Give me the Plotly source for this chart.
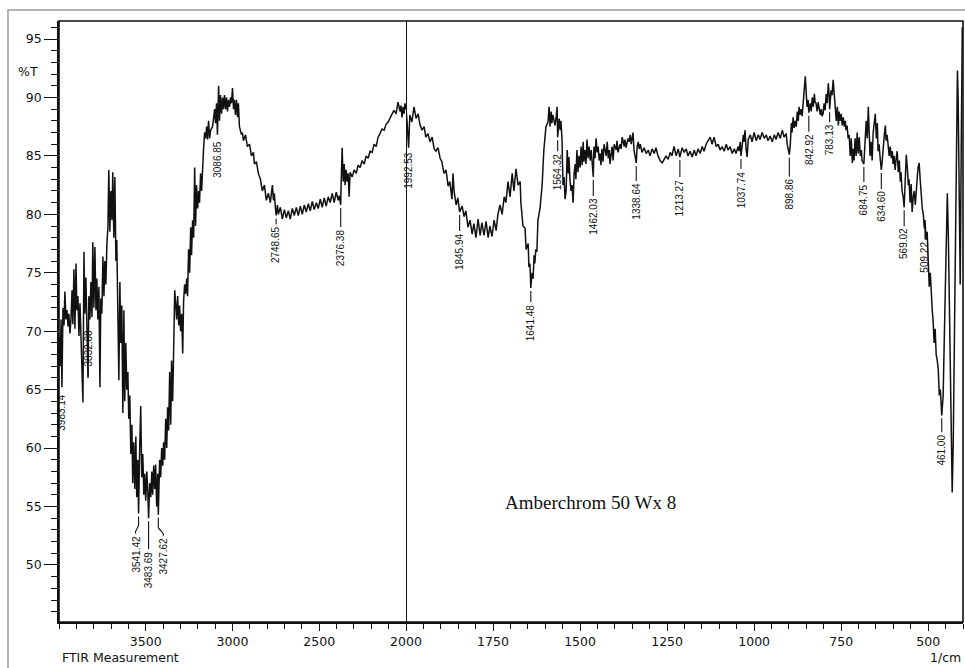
import plotly.graph_objects as go
import numpy as np

# ---- spectrum data: wavenumber (1/cm) and %T ----
# high-wavenumber section, 4000 -> 2000 (compressed scale)
wn_high = [
    4000, 3994, 3988, 3983.14, 3977, 3971, 3966, 3960, 3954, 3948,
    3943, 3937, 3931, 3925, 3920, 3914, 3908, 3902, 3897, 3891,
    3885, 3879, 3874, 3868, 3862, 3856, 3851, 3845, 3839, 3832.68,
    3828, 3822, 3816, 3810, 3805, 3799, 3793, 3787, 3782, 3776,
    3770, 3764, 3759, 3753, 3747, 3741, 3736, 3730, 3724, 3718,
    3713, 3707, 3701, 3695, 3690, 3684, 3678, 3672, 3667, 3661,
    3655, 3649, 3644, 3638, 3632, 3626, 3621, 3615, 3609, 3603,
    3598, 3592, 3586, 3580, 3575, 3569, 3563, 3557, 3552, 3546,
    3541.42, 3535, 3529, 3523, 3517, 3511, 3506, 3500, 3494, 3488,
    3483.69, 3477, 3471, 3465, 3460, 3454, 3448, 3443, 3437, 3431,
    3427.62, 3420, 3414, 3408, 3402, 3397, 3391, 3385, 3379, 3374,
    3368, 3362, 3356, 3351, 3345, 3339, 3333, 3328, 3322, 3316,
    3310, 3305, 3299, 3293, 3287, 3282, 3276, 3270, 3264, 3259,
    3253, 3247, 3241, 3236, 3230, 3224, 3218, 3213, 3207, 3201,
    3195, 3190, 3184, 3178, 3172, 3167, 3161, 3155, 3149, 3144,
    3138, 3132, 3126, 3115, 3103, 3098, 3092, 3086.85, 3080, 3075,
    3069, 3063, 3057, 3052, 3046, 3040, 3034, 3029, 3023, 3017,
    3011, 3006, 3000, 2994, 2989, 2983, 2977, 2971, 2966, 2960,
    2948, 2943, 2937, 2925, 2914, 2902, 2891, 2879, 2874, 2862,
    2851, 2839, 2828, 2816, 2805, 2793, 2782, 2770, 2764, 2759,
    2753, 2748.65, 2741, 2736, 2724, 2713, 2701, 2690, 2678, 2667,
    2655, 2644, 2632, 2621, 2609, 2598, 2586, 2575, 2563, 2552,
    2540, 2529, 2517, 2506, 2494, 2483, 2471, 2460, 2448, 2437,
    2425, 2414, 2402, 2391, 2385, 2376.38, 2374, 2368, 2362, 2356,
    2351, 2345, 2339, 2333, 2328, 2322, 2310, 2299, 2287, 2276,
    2264, 2253, 2241, 2230, 2218, 2207, 2195, 2184, 2172, 2161,
    2150, 2138, 2126, 2115, 2103, 2092, 2080, 2069, 2057, 2046,
    2034, 2029, 2023, 2017, 2011, 2006, 2000,
]
t_high = [
    69.5, 67.0, 71.0, 65.2, 72.0, 70.5, 73.4, 71.0, 71.8, 70.4,
    71.5, 69.8, 71.0, 73.5, 70.6, 75.3, 70.2, 75.8, 71.8, 73.0,
    69.6, 72.4, 69.9, 66.8, 63.9, 76.8, 71.5, 74.6, 70.2, 66.0,
    73.0, 71.0, 74.2, 71.2, 77.6, 72.0, 77.2, 71.8, 74.5, 71.0,
    73.8, 65.2, 72.8, 71.5, 76.4, 73.0, 76.0, 74.0, 77.4, 79.0,
    83.8, 78.5, 82.0, 79.5, 83.6, 78.0, 83.2, 76.0, 77.8, 72.6,
    65.8, 74.2, 69.0, 72.2, 63.0, 71.8, 64.0, 69.0, 65.0, 66.5,
    62.5, 64.5, 59.5, 62.0, 57.0, 60.5, 56.5, 61.0, 55.8, 59.0,
    54.4, 60.0, 63.6, 57.5, 59.5, 56.0, 57.8, 55.5, 58.0, 56.2,
    54.0, 57.0, 55.8, 58.0, 56.0, 58.5, 56.5, 58.6, 55.0, 57.8,
    54.3, 59.0, 57.5, 60.0, 58.5, 60.5, 59.0, 62.5, 60.0, 63.5,
    61.5, 66.5, 62.0, 67.5, 64.0, 68.5, 73.5, 72.5, 71.0, 73.0,
    70.5, 72.2, 70.0, 71.5, 68.1, 72.5, 74.0, 73.2, 74.5, 73.0,
    77.0, 75.0, 78.9, 76.5, 79.5, 78.0, 84.0, 79.0, 82.5, 80.5,
    82.0, 81.0, 83.5, 82.0, 84.6, 85.5, 87.0, 86.5, 87.5, 86.4,
    88.0, 86.5, 87.2, 87.5, 89.0, 87.8, 89.5, 86.8, 91.0, 88.0,
    90.2, 88.6, 90.0, 89.0, 90.2, 89.0, 90.0, 88.8, 89.8, 89.2,
    90.0, 89.5, 90.8, 89.0, 89.8, 88.5, 89.8, 88.3, 89.5, 87.5,
    86.8, 87.0, 86.3, 86.8, 85.8, 86.0, 85.0, 85.3, 84.3, 84.5,
    83.5, 83.0, 82.0, 82.5, 81.2, 81.8, 81.0, 82.5, 81.2, 81.8,
    80.6, 79.9, 80.8, 80.0, 80.6, 79.6, 80.4, 79.7, 80.3, 79.6,
    80.5, 79.9, 80.6, 79.9, 80.7, 80.0, 80.8, 80.2, 80.9, 80.3,
    81.1, 80.4, 81.0, 80.5, 81.3, 80.6, 81.4, 80.7, 81.5, 81.0,
    81.8, 81.0, 81.9, 81.2, 81.6, 80.8, 82.5, 85.7, 82.8, 84.3,
    82.5, 83.8, 82.8, 83.5, 81.5, 83.6, 83.2, 83.8, 83.5, 84.2,
    84.0, 84.6, 84.3, 85.0, 84.8, 85.4, 85.3, 86.0, 85.8, 86.6,
    86.9, 87.3, 87.2, 87.7, 87.9, 88.3, 88.6, 88.9, 88.6, 89.6,
    88.8, 89.3, 88.3, 89.2, 88.6, 89.5, 89.0,
]

# low-wavenumber section, 2000 -> 400 (expanded scale)
wn_low = [
    2000, 1997, 1992.53, 1991, 1989, 1983, 1977, 1971, 1965, 1960,
    1954, 1948, 1943, 1937, 1931, 1925, 1919, 1914, 1908, 1902,
    1897, 1891, 1885, 1879, 1874, 1868, 1865, 1862, 1856, 1851,
    1845.94, 1839, 1833, 1828, 1822, 1816, 1810, 1805, 1799, 1793,
    1787, 1782, 1776, 1770, 1764, 1759, 1753, 1747, 1741, 1736,
    1730, 1724, 1718, 1713, 1707, 1701, 1695, 1690, 1684, 1678,
    1672, 1670, 1664, 1658, 1655, 1649, 1647, 1644, 1641.48, 1638,
    1635, 1632, 1630, 1627, 1624, 1621, 1615, 1609, 1604, 1598,
    1592, 1589, 1586, 1583, 1581, 1578, 1572, 1569, 1566, 1564.32,
    1560, 1557, 1555, 1552, 1549, 1546, 1543, 1540, 1537, 1534,
    1532, 1529, 1526, 1523, 1520, 1517, 1514, 1512, 1509, 1506,
    1503, 1500, 1497, 1494, 1491, 1489, 1486, 1483, 1480, 1477,
    1474, 1471, 1468, 1462.03, 1460, 1457, 1454, 1451, 1448, 1445,
    1442, 1440, 1437, 1434, 1431, 1425, 1422, 1419, 1416, 1414,
    1408, 1405, 1402, 1396, 1394, 1391, 1385, 1382, 1379, 1373,
    1371, 1368, 1362, 1359, 1356, 1353, 1350, 1348, 1345, 1342,
    1338.64, 1336, 1333, 1330, 1327, 1322, 1316, 1310, 1304, 1299,
    1293, 1287, 1282, 1276, 1270, 1264, 1258, 1253, 1247, 1241,
    1236, 1230, 1224, 1218, 1213.27, 1207, 1201, 1195, 1190, 1184,
    1178, 1172, 1167, 1161, 1155, 1149, 1144, 1138, 1132, 1126,
    1121, 1115, 1109, 1103, 1098, 1092, 1086, 1080, 1075, 1069,
    1063, 1057, 1052, 1046, 1043, 1040, 1037.74, 1034, 1031, 1029,
    1026, 1023, 1020, 1017, 1011, 1006, 1000, 994, 988, 983,
    977, 971, 965, 960, 954, 948, 942, 937, 931, 925,
    919, 914, 908, 905, 902, 898.86, 896, 893, 891, 888,
    885, 882, 879, 876, 873, 871, 868, 865, 862, 859,
    856, 853, 850, 848, 845, 842.92, 839, 836, 833, 830,
    827, 825, 822, 819, 816, 813, 810, 807, 805, 802,
    799, 796, 793, 790, 787, 784, 783.13, 779, 776, 773,
    770, 767, 764, 761, 758, 756, 753, 750, 747, 744,
    741, 738, 736, 733, 730, 727, 724, 721, 718, 715,
    713, 710, 707, 704, 701, 698, 695, 692, 690, 684.75,
    683, 681, 678, 675, 672, 670, 667, 664, 661, 658,
    655, 652, 649, 646, 644, 641, 638, 634.60, 632, 629,
    626, 623, 621, 618, 615, 612, 609, 606, 603, 601,
    598, 595, 592, 589, 586, 583, 580, 578, 575, 572,
    569.02, 566, 563, 560, 557, 555, 552, 549, 546, 543,
    540, 537, 534, 531, 529, 526, 523, 520, 517, 514,
    511, 509.22, 506, 503, 500, 497, 494, 491, 488, 486,
    483, 480, 477, 474, 471, 468, 465, 461.00, 457, 454,
    451, 448, 445, 442, 439, 437, 434, 431, 428, 425,
    422, 419, 416, 414, 411, 408, 405, 402, 400,
]
t_low = [
    89.0, 88.0, 85.7, 87.8, 88.5, 87.9, 89.2, 88.2, 88.6, 87.7,
    87.2, 87.5, 86.6, 86.9, 86.2, 86.6, 85.6, 85.4, 85.7, 84.8,
    84.5, 83.5, 83.8, 82.4, 82.8, 81.3, 83.5, 82.0, 80.8, 81.4,
    80.2, 80.7, 79.8, 80.3, 78.9, 79.5, 78.3, 79.2, 78.0, 79.6,
    78.2, 79.3, 78.2, 79.4, 78.0, 79.0, 78.1, 79.5, 78.6, 80.0,
    80.8, 80.0, 81.5, 81.0, 82.8, 81.5, 83.5, 82.0, 83.9, 82.5,
    82.8, 81.0, 79.0, 78.8, 77.0, 77.5, 75.5, 75.8, 73.7, 75.0,
    74.5, 76.5, 75.8, 77.0, 76.8, 79.5, 80.5, 82.5, 85.5, 87.5,
    87.9, 89.2, 87.5, 88.8, 87.8, 88.5, 87.6, 88.2, 89.2, 86.6,
    88.2, 87.2, 88.0, 86.5, 82.5, 83.2, 81.3, 82.0, 85.5, 83.5,
    84.9, 83.0, 82.0, 82.5, 81.0, 83.5, 84.3, 83.0, 85.5, 83.6,
    85.0, 84.0, 85.8, 84.2, 86.2, 84.5, 85.5, 84.3, 86.4, 84.8,
    85.8, 84.6, 85.5, 83.2, 85.8, 84.8, 86.5, 85.3, 85.8, 84.6,
    85.2, 84.2, 85.6, 84.5, 86.0, 85.0, 86.2, 84.8, 85.5, 84.3,
    85.8, 84.6, 86.0, 85.5, 86.3, 85.3, 86.0, 85.6, 86.6, 85.8,
    86.4, 85.7, 86.5, 86.2, 86.8, 86.0, 86.7, 87.0, 85.5, 85.0,
    84.4, 85.8, 86.2, 85.6, 86.0, 85.3, 85.7, 85.2, 85.5, 85.0,
    85.6, 85.2, 85.7, 85.0, 84.6, 84.4, 84.8, 85.0, 84.7, 85.3,
    85.0, 85.8, 85.0, 85.6, 84.9, 85.7, 85.3, 85.6, 85.0, 85.4,
    84.9, 85.5, 85.0, 85.6, 85.2, 85.8, 85.4, 86.0, 86.3, 86.6,
    86.0, 86.6, 85.8, 86.0, 85.5, 85.8, 85.4, 86.0, 85.5, 85.8,
    85.2, 85.6, 85.2, 85.8, 85.4, 86.2, 85.0, 86.0, 86.8, 86.2,
    87.2, 85.5, 84.9, 86.4, 86.8, 86.2, 87.0, 86.3, 86.8, 86.4,
    87.0, 86.5, 86.8, 86.3, 86.7, 86.2, 86.8, 86.4, 87.0, 86.5,
    87.2, 86.6, 86.9, 86.0, 85.6, 85.1, 86.0, 87.8, 87.0, 88.3,
    87.4, 88.0, 87.5, 88.8, 88.0, 89.2, 88.5, 89.0, 88.4, 89.8,
    90.6, 91.8, 90.2, 89.2, 89.8, 88.7, 89.5, 88.8, 90.0, 89.2,
    90.3, 89.6, 89.5, 88.8, 89.6, 88.8, 88.5, 89.0, 88.4, 88.6,
    89.5, 88.9, 90.3, 89.5, 91.2, 90.0, 89.0, 90.6, 90.2, 91.5,
    90.0, 88.9, 88.0, 89.2, 87.6, 88.8, 88.0, 88.6, 87.6, 88.3,
    87.5, 88.0, 87.2, 87.6, 86.5, 86.8, 85.0, 86.5, 84.4, 85.6,
    84.6, 86.5, 85.0, 87.0, 85.2, 86.6, 85.0, 85.5, 84.6, 84.3,
    85.3, 86.8, 88.0, 86.5, 89.2, 87.5, 85.0, 86.2, 84.6, 87.0,
    88.0, 88.6, 86.5, 87.8, 85.4, 86.0, 84.8, 83.8, 84.6, 86.0,
    86.8, 87.6, 86.3, 86.8, 85.8, 85.0, 85.8, 84.8, 85.4, 84.3,
    85.0, 83.8, 84.8, 85.4, 83.6, 84.6, 82.8, 83.6, 82.0, 81.5,
    80.6, 83.5, 85.1, 84.0, 82.5, 83.0, 81.0, 82.6, 80.2, 81.5,
    82.0, 80.8, 82.5, 83.3, 84.0, 84.4, 83.0, 81.6, 80.5, 80.0,
    78.8, 79.5, 77.8, 78.5, 76.0, 73.8, 75.0, 72.5, 71.6, 71.0,
    69.0, 70.2, 68.0, 67.5, 66.7, 64.5, 65.0, 62.8, 64.5, 69.0,
    73.5, 77.0, 81.8, 78.0, 72.0, 66.0, 61.5, 56.2, 60.5, 68.0,
    80.0, 88.0, 92.3, 90.0, 78.0, 74.0, 86.0, 96.0, 95.0,
]

# peak picks printed beside the trace
peak_labels = [
    "3983.14", "3832.68", "3541.42", "3483.69", "3427.62", "3086.85",
    "2748.65", "2376.38", "1992.53", "1845.94", "1641.48", "1564.32",
    "1462.03", "1338.64", "1213.27", "1037.74", "898.86", "842.92",
    "783.13", "684.75", "634.60", "569.02", "509.22", "461.00",
]

# axis ticks
y_ticks = [50, 55, 60, 65, 70, 75, 80, 85, 90, 95]
x_ticks_high = [3500, 3000, 2500]
x_ticks_low = [2000, 1750, 1500, 1250, 1000, 750, 500]

# ---- layout geometry ----
W, H = 965, 668
L, R, T, B = 59, 2, 21, 46
split = 347 / 904          # share of plot width given to 4000-2000
Y_RANGE = [45.12, 96.54]

# label placement: (drop below the point in px, horizontal leader bend in px)
label_place = {
    "3983.14": (5, 0), "3832.68": (-10, 0), "3541.42": (21, -3),
    "3483.69": (32, 0), "3427.62": (22, 5), "3086.85": (5, 0),
    "2748.65": (10, 0), "2376.38": (23, 0), "1992.53": (3, 0),
    "1845.94": (20, 0), "1641.48": (15, 0), "1564.32": (15, 0),
    "1462.03": (20, 0), "1338.64": (19, 0), "1213.27": (21, 0),
    "1037.74": (14, 0), "898.86": (23, 0), "842.92": (20, 0),
    "783.13": (14, 0), "684.75": (19, 0), "634.60": (20, 0),
    "569.02": (20, 0), "509.22": (20, 0), "461.00": (18, 0),
}

INK = "#111111"
TICK_FONT = dict(family="DejaVu Sans", size=12.5, color=INK)

fig = go.Figure()
fig.add_trace(go.Scatter(x=wn_high, y=t_high, mode="lines", xaxis="x", yaxis="y",
                         line=dict(color=INK, width=1.5), hoverinfo="skip"))
fig.add_trace(go.Scatter(x=wn_low, y=t_low, mode="lines", xaxis="x2", yaxis="y",
                         line=dict(color=INK, width=1.5), hoverinfo="skip"))

all_wn = np.array(wn_high + wn_low)
all_t = np.array(t_high + t_low)

shapes = []
annotations = []
for lab in peak_labels:
    wn = float(lab)
    tv = float(all_t[np.argmin(np.abs(all_wn - wn))])
    xr = "x" if wn > 2000 else "x2"
    drop, dx = label_place[lab]
    if drop < 0:
        # label sits above the point
        shapes.append(dict(type="line", xref=xr, yref="y", xsizemode="pixel", ysizemode="pixel",
                           xanchor=wn, yanchor=tv, x0=0, x1=0, y0=2, y1=-drop - 1,
                           line=dict(color=INK, width=1.1)))
        annotations.append(dict(x=wn, y=tv, xref=xr, yref="y", text=lab, showarrow=False,
                                textangle=-90, xanchor="center", yanchor="bottom",
                                yshift=-drop, borderpad=0,
                                font=dict(family="Liberation Sans", size=10, color=INK)))
        continue
    if drop > 6:
        if dx == 0:
            path = f"M0,-3 L0,-{drop - 1}"
        else:
            path = f"M0,-3 L0,-{drop - 9} L{dx},-{drop - 3} L{dx},-{drop - 1}"
        shapes.append(dict(type="path", xref=xr, yref="y", xsizemode="pixel", ysizemode="pixel",
                           xanchor=wn, yanchor=tv, path=path,
                           line=dict(color=INK, width=1.1)))
    annotations.append(dict(x=wn, y=tv, xref=xr, yref="y", text=lab, showarrow=False,
                            textangle=-90, xanchor="center", yanchor="top",
                            xshift=dx, yshift=-drop, borderpad=0,
                            font=dict(family="Liberation Sans", size=10, color=INK)))

# plot frame, scale break at 2000 and the outer border
shapes.append(dict(type="rect", xref="paper", yref="paper", x0=0, x1=1, y0=0, y1=1,
                   line=dict(color=INK, width=1.6), layer="above"))
shapes.append(dict(type="line", xref="x2", yref="paper", x0=2000, x1=2000, y0=0, y1=1,
                   line=dict(color=INK, width=2)))
pw, ph = W - L - R, H - T - B
shapes.append(dict(type="rect", xref="paper", yref="paper",
                   x0=(8 - L) / pw, x1=(W + 4 - L) / pw,
                   y0=-(H + 4 - (H - B)) / ph, y1=(H - B - 10) / ph,
                   line=dict(color="#9a9a9a", width=1.5)))

annotations += [
    dict(x=(40 - L) / pw, y=(H - B - 71) / ph, xref="paper", yref="paper", text="%T",
         showarrow=False, xanchor="right", yanchor="middle", font=TICK_FONT),
    dict(x=(60 - L) / pw, y=(H - B - 657) / ph, xref="paper", yref="paper",
         text="FTIR Measurement", showarrow=False, xanchor="left", yanchor="middle",
         font=dict(family="DejaVu Sans", size=12.5, color=INK)),
    dict(x=1.0, y=(H - B - 657) / ph, xref="paper", yref="paper", text="1/cm",
         showarrow=False, xanchor="right", yanchor="middle",
         font=dict(family="DejaVu Sans", size=12.5, color=INK)),
    dict(x=(590 - L) / pw, y=(H - B - 502) / ph, xref="paper", yref="paper",
         text="Amberchrom 50 Wx 8", showarrow=False, xanchor="center", yanchor="middle",
         font=dict(family="Liberation Serif", size=19, color=INK)),
]

axis_common = dict(showgrid=False, zeroline=False, showline=True, linecolor=INK, linewidth=1.6,
                   ticks="outside", ticklen=7, tickwidth=1.3, tickcolor=INK, tickfont=TICK_FONT)

fig.update_layout(
    width=W, height=H,
    margin=dict(l=L, r=R, t=T, b=B, pad=0),
    paper_bgcolor="white", plot_bgcolor="white",
    showlegend=False,
    xaxis=dict(domain=[0, split], range=[4000, 2000], anchor="y",
               tickmode="array", tickvals=x_ticks_high, ticktext=[str(v) for v in x_ticks_high],
               minor=dict(ticks="outside", ticklen=5, tickwidth=1.2, tickcolor=INK,
                          tick0=0, dtick=100, showgrid=False),
               **axis_common),
    xaxis2=dict(domain=[split, 1], range=[2000, 400], anchor="y",
                tickmode="array", tickvals=x_ticks_low, ticktext=[str(v) for v in x_ticks_low],
                minor=dict(ticks="outside", ticklen=5, tickwidth=1.2, tickcolor=INK,
                           tick0=0, dtick=50, showgrid=False),
                **axis_common),
    yaxis=dict(range=Y_RANGE, anchor="x", tickmode="array", tickvals=y_ticks,
               minor=dict(ticks="outside", ticklen=6, tickwidth=1.2, tickcolor=INK,
                          tick0=0, dtick=1, showgrid=False),
               **{**axis_common, "ticklen": 13}),
    shapes=shapes,
    annotations=annotations,
)

fig.write_html("out.html")
